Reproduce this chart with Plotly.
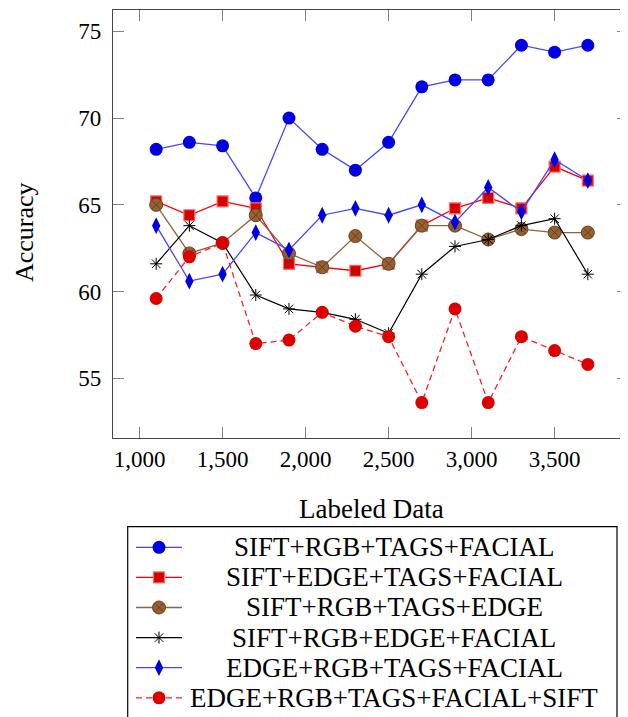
import plotly.graph_objects as go

# the page body has an 8px margin, so the figure starts at (8, 8) in the window
OFF = 8
W, H = 628 - OFF, 717 - OFF

labeled = [1100, 1300, 1500, 1700, 1900, 2100, 2300, 2500, 2700, 2900, 3100, 3300, 3500, 3700]

sift_rgb_tags_facial = [68.2, 68.6, 68.4, 65.4, 70.0, 68.2, 67.0, 68.6, 71.8, 72.2, 72.2, 74.2, 73.8, 74.2]
sift_edge_tags_facial = [65.2, 64.4, 65.2, 64.8, 61.6, 61.4, 61.2, 61.6, 63.8, 64.8, 65.4, 64.8, 67.2, 66.4]
sift_rgb_tags_edge = [65.0, 62.2, 62.8, 64.4, 62.2, 61.4, 63.2, 61.6, 63.8, 63.8, 63.0, 63.6, 63.4, 63.4]
sift_rgb_edge_facial = [61.6, 63.8, 62.8, 59.8, 59.0, 58.8, 58.4, 57.6, 61.0, 62.6, 63.0, 63.8, 64.2, 61.0]
edge_rgb_tags_facial = [63.8, 60.6, 61.0, 63.4, 62.4, 64.4, 64.8, 64.4, 65.0, 64.0, 66.0, 64.6, 67.6, 66.4]
edge_rgb_tags_facial_sift = [59.6, 62.0, 62.8, 57.0, 57.2, 58.8, 58.0, 57.4, 53.6, 59.0, 53.6, 57.4, 56.6, 55.8]

x_ticks = [1000, 1500, 2000, 2500, 3000, 3500]
x_tick_text = ["1,000", "1,500", "2,000", "2,500", "3,000", "3,500"]
y_ticks = [55, 60, 65, 70, 75]

series = [
    dict(name="SIFT+RGB+TAGS+FACIAL", y=sift_rgb_tags_facial,
         line=dict(color="rgb(70,70,255)", width=1.3),
         marker=dict(symbol="circle", size=13, color="rgb(0,0,225)",
                     line=dict(color="rgb(0,0,225)", width=0))),
    dict(name="SIFT+EDGE+TAGS+FACIAL", y=sift_edge_tags_facial,
         line=dict(color="rgb(255,0,0)", width=1.3),
         marker=dict(symbol="square", size=11, color="rgb(212,0,0)",
                     line=dict(color="rgb(255,110,110)", width=1.2))),
    dict(name="SIFT+RGB+TAGS+EDGE", y=sift_rgb_tags_edge,
         line=dict(color="rgb(140,100,62)", width=1.3),
         marker=dict(symbol="circle-x", size=13, color="rgb(150,96,50)",
                     line=dict(color="rgb(105,65,32)", width=1))),
    dict(name="SIFT+RGB+EDGE+FACIAL", y=sift_rgb_edge_facial,
         line=dict(color="rgb(0,0,0)", width=1.2),
         marker=dict(symbol="asterisk-open", size=10, color="rgb(0,0,0)",
                     line=dict(color="rgb(0,0,0)", width=1))),
    dict(name="EDGE+RGB+TAGS+FACIAL", y=edge_rgb_tags_facial,
         line=dict(color="rgb(70,70,255)", width=1.3),
         marker=dict(symbol="diamond-tall", size=12, color="rgb(0,0,225)",
                     line=dict(color="rgb(0,0,225)", width=0))),
    dict(name="EDGE+RGB+TAGS+FACIAL+SIFT", y=edge_rgb_tags_facial_sift,
         line=dict(color="rgb(255,30,30)", width=1.3, dash="6px,4px"),
         marker=dict(symbol="circle", size=13, color="rgb(220,0,0)",
                     line=dict(color="rgb(220,0,0)", width=0))),
]

FONT = "Liberation Serif"


def px_x(p):
    """window pixel -> paper x"""
    return (p - OFF) / W


def px_y(p):
    """window pixel -> paper y"""
    return 1 - (p - OFF) / H


fig = go.Figure()

for s in series:
    fig.add_trace(go.Scatter(
        x=labeled, y=s["y"], mode="lines+markers", name=s["name"],
        line=s["line"], marker=s["marker"], showlegend=False,
        xaxis="x", yaxis="y", cliponaxis=False,
    ))

# custom legend (samples drawn on a helper axis, one row per series)
for i, s in enumerate(series):
    fig.add_trace(go.Scatter(
        x=[0, 1], y=[i, i], mode="lines", line=s["line"],
        showlegend=False, xaxis="x2", yaxis="y2", hoverinfo="skip",
    ))
    fig.add_trace(go.Scatter(
        x=[0.5], y=[i], mode="markers", marker=s["marker"],
        showlegend=False, xaxis="x2", yaxis="y2", hoverinfo="skip",
    ))
    fig.add_annotation(
        x=px_x(394), xref="paper", y=i, yref="y2", text=s["name"],
        showarrow=False, xanchor="center", yanchor="middle",
        font=dict(family=FONT, size=27, color="black"),
    )

fig.add_shape(type="rect", xref="paper", yref="paper",
              x0=px_x(127.7), x1=px_x(617), y0=px_y(526.7), y1=-0.03,
              line=dict(color="black", width=1.2), fillcolor="rgba(0,0,0,0)")

# axis titles
fig.add_annotation(x=px_x(372), y=px_y(509), xref="paper", yref="paper",
                   text="Labeled Data", showarrow=False,
                   xanchor="center", yanchor="middle",
                   font=dict(family=FONT, size=27, color="black"))
fig.add_annotation(x=px_x(25), y=px_y(232), xref="paper", yref="paper",
                   text="Accuracy", showarrow=False, textangle=-90,
                   xanchor="center", yanchor="middle",
                   font=dict(family=FONT, size=26, color="black"))

axis_line = "rgb(70,70,70)"
tick_col = "rgb(130,130,130)"

fig.update_layout(
    width=W, height=H,
    margin=dict(l=0, r=0, t=0, b=0),
    paper_bgcolor="white", plot_bgcolor="white",
    font=dict(family=FONT, size=23, color="black"),
    xaxis=dict(
        domain=[px_x(113), 1], range=[840, 3942],
        tickvals=x_ticks, ticktext=x_tick_text,
        ticks="inside", ticklen=11, tickwidth=1, tickcolor=tick_col,
        showline=True, linecolor=axis_line, linewidth=1.4, mirror="ticks",
        showgrid=False, zeroline=False, anchor="y",
        tickfont=dict(family=FONT, size=23, color="black"),
    ),
    yaxis=dict(
        domain=[px_y(438.3), px_y(9.5)], range=[51.54, 76.26],
        tickvals=y_ticks,
        ticks="inside", ticklen=11, tickwidth=1, tickcolor=tick_col,
        showline=True, linecolor=axis_line, linewidth=1.4, mirror="ticks",
        showgrid=False, zeroline=False, anchor="x",
        tickfont=dict(family=FONT, size=23, color="black"),
        ticklabelstandoff=6,
    ),
    xaxis2=dict(domain=[px_x(136), px_x(182)], range=[0, 1], visible=False,
                anchor="y2", fixedrange=True),
    yaxis2=dict(domain=[0, px_y(526.7)], range=[(H + OFF - 547.3) / 30.1, -0.684],
                visible=False, anchor="x2", fixedrange=True),
)

fig.write_html("out.html")
